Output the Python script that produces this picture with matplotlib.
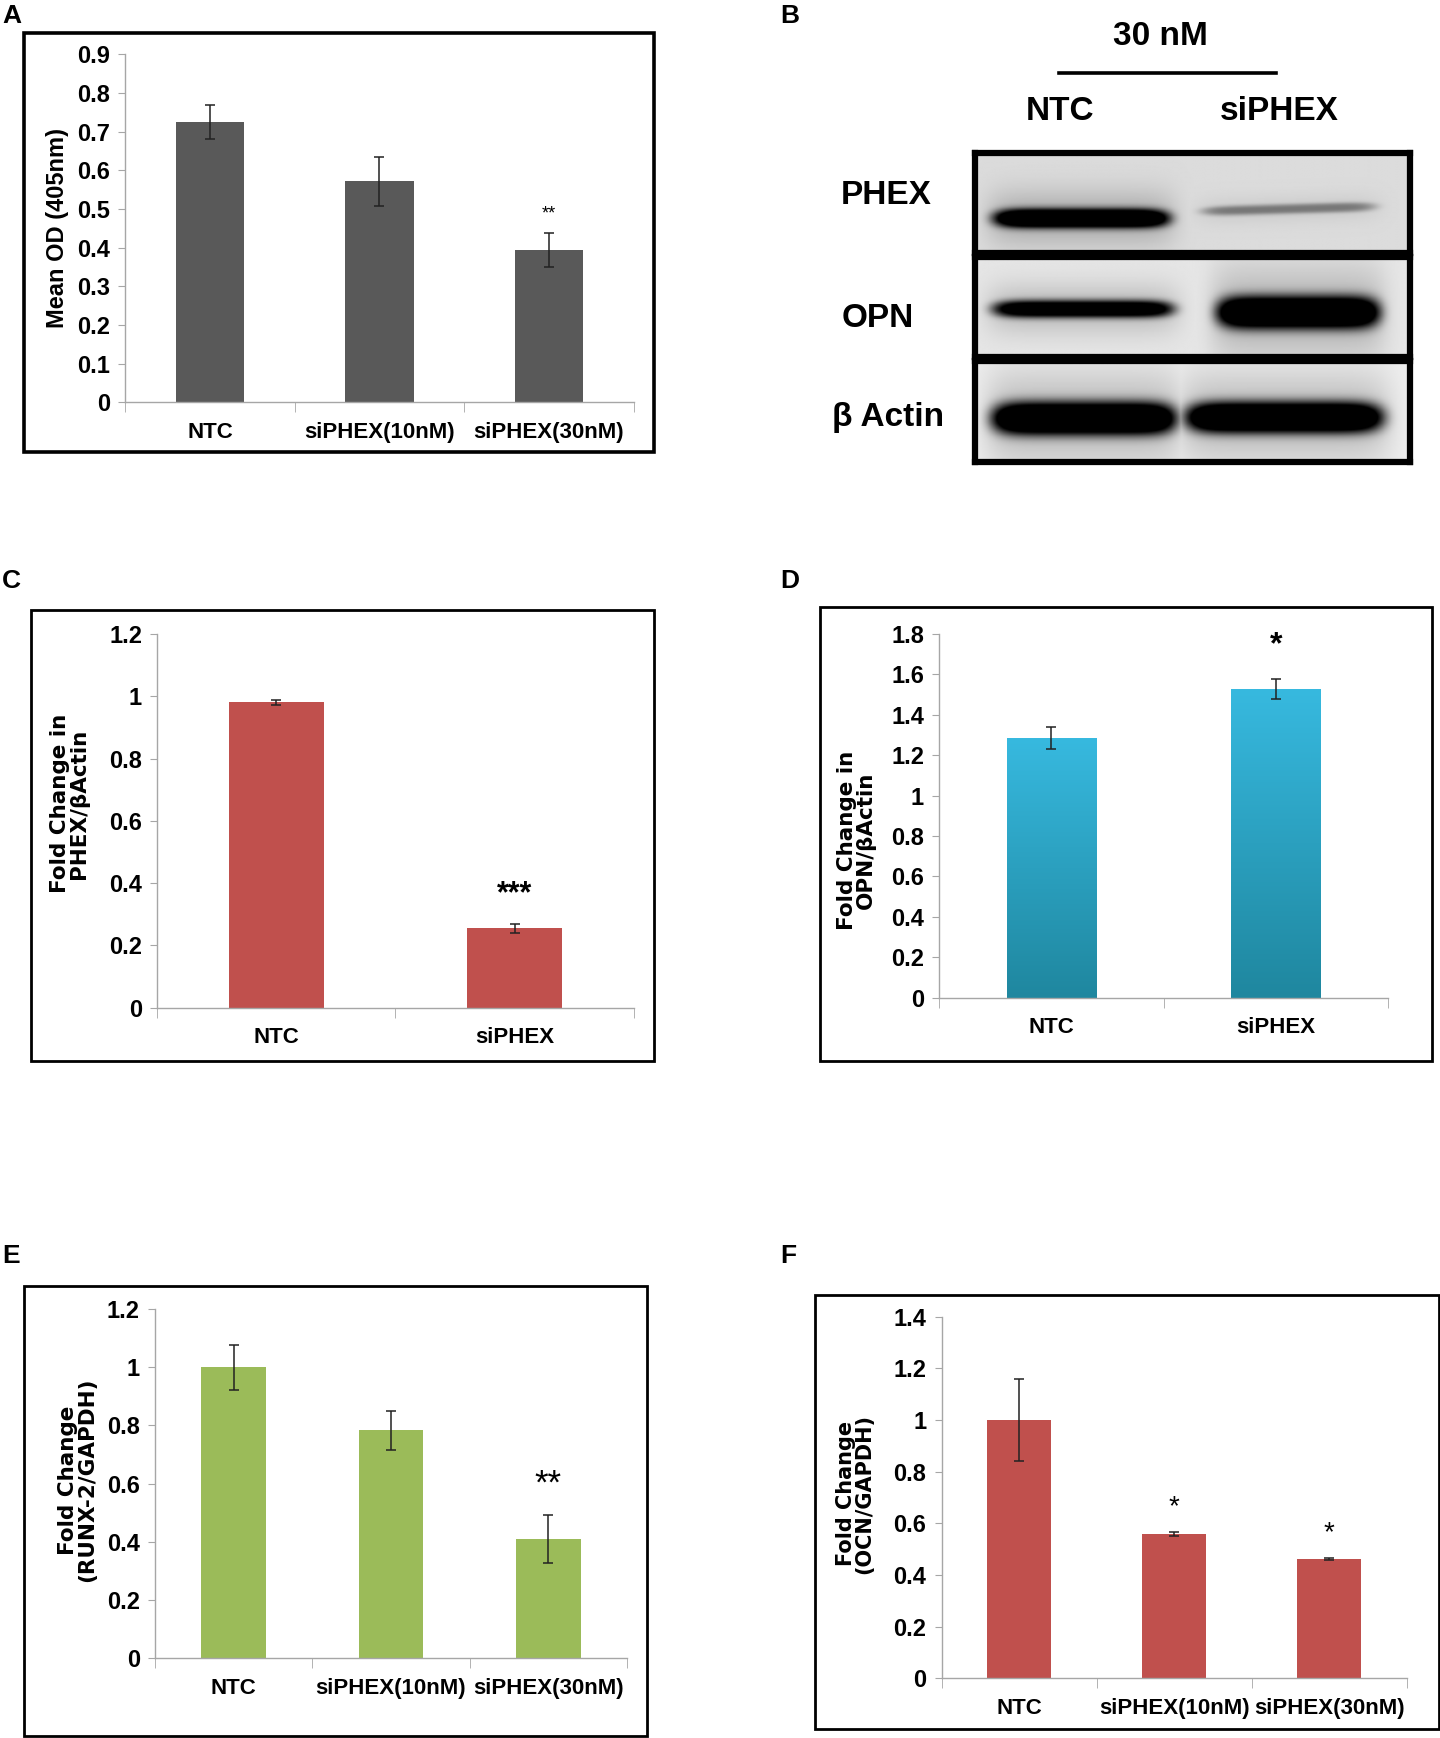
import numpy as np
import matplotlib.pyplot as plt
from matplotlib.patches import Rectangle
from matplotlib.colors import LinearSegmentedColormap

# layout grid (positions below are measured on a 1300 x 1568 grid)
W0, H0 = 1300, 1568

NARROW = ['Liberation Sans Narrow', 'Liberation Sans', 'DejaVu Sans']
ARIAL = ['Liberation Sans', 'DejaVu Sans']
WIDE = ['DejaVu Sans']

# ---- data ----
a_groups = ['NTC', 'siPHEX(10nM)', 'siPHEX(30nM)']
a_means = [0.725, 0.572, 0.393]
a_errs = [0.045, 0.063, 0.044]
a_sig = ['', '', '**']

c_groups = ['NTC', 'siPHEX']
c_means = [0.98, 0.255]
c_errs = [0.007, 0.014]
c_sig = ['', '***']

d_groups = ['NTC', 'siPHEX']
d_means = [1.285, 1.527]
d_errs = [0.055, 0.048]
d_sig = ['', '*']

e_groups = ['NTC', 'siPHEX(10nM)', 'siPHEX(30nM)']
e_means = [1.0, 0.783, 0.41]
e_errs = [0.078, 0.067, 0.083]
e_sig = ['', '', '**']

f_groups = ['NTC', 'siPHEX(10nM)', 'siPHEX(30nM)']
f_means = [1.0, 0.557, 0.462]
f_errs = [0.158, 0.008, 0.004]
f_sig = ['', '*', '*']

blot_lanes = ['NTC', 'siPHEX']
blot_rows = ['PHEX', 'OPN', 'β Actin']
# relative band darkness per row, per lane
blot_intensity = [[1.0, 0.30], [0.85, 1.0], [1.0, 1.0]]


def frac_rect(x0, y0, x1, y1):
    return [x0 / W0, 1 - y1 / H0, (x1 - x0) / W0, (y1 - y0) / H0]


def fig_text(fig, x, y, s, **kw):
    fig.text(x / W0, 1 - y / H0, s, **kw)


def frame(fig, x0, y0, x1, y1, lw=2.0):
    r = frac_rect(x0, y0, x1, y1)
    fig.add_artist(Rectangle((r[0], r[1]), r[2], r[3], transform=fig.transFigure,
                             fill=False, ec='black', lw=lw))


def bar_panel(fig, rect, groups, means, errs, sig, ymax, step, color, ylabel,
              ylab_xy, ylab_font, ylab_size, width, star_size, star_gap,
              star_weight='normal', gradient=None):
    ax = fig.add_axes(frac_rect(*rect))
    x = np.arange(len(groups))
    bars = ax.bar(x, means, width=width, color=color, zorder=2)
    if gradient is not None:
        cmap = LinearSegmentedColormap.from_list('g', gradient)
        grad = np.linspace(1, 0, 200).reshape(-1, 1)
        for b in bars:
            ax.imshow(grad, extent=[b.get_x(), b.get_x() + b.get_width(), 0, b.get_height()],
                      aspect='auto', cmap=cmap, zorder=2.5)
    ax.errorbar(x, means, yerr=errs, fmt='none', ecolor='#222222', elinewidth=1.1,
                capsize=3.5, capthick=1.1, zorder=3)
    for xi, m, e, s in zip(x, means, errs, sig):
        if s:
            ax.text(xi, m + e + star_gap, s, ha='center', va='center', fontsize=star_size,
                    fontweight=star_weight, family=ARIAL)
    ax.set_xlim(-0.5, len(groups) - 0.5)
    ax.set_ylim(0, ymax)
    ticks = np.round(np.arange(0, ymax + step / 2, step), 2)
    ax.set_yticks(ticks)
    ax.set_yticklabels([f'{t:g}' for t in ticks], family=NARROW, fontweight='bold', fontsize=17)
    ax.set_xticks(x)
    ax.set_xticklabels(groups, family=NARROW, fontweight='bold', fontsize=16)
    ax.set_xticks(np.arange(len(groups) + 1) - 0.5, minor=True)
    ax.tick_params(axis='x', which='major', length=0, pad=14)
    ax.tick_params(axis='x', which='minor', length=7, color='#a6a6a6', direction='out')
    ax.tick_params(axis='y', length=5, color='#a6a6a6', pad=6)
    for sp in ['top', 'right']:
        ax.spines[sp].set_visible(False)
    for sp in ['left', 'bottom']:
        ax.spines[sp].set_color('#a6a6a6')
        ax.spines[sp].set_linewidth(1.0)
    ax.set_ylabel(ylabel, family=ylab_font, fontweight='bold', fontsize=ylab_size,
                  va='center', linespacing=0.9)
    ax.yaxis.set_label_coords(*ylab_xy)
    return ax


def blot_image(intens, bands, bg, ny=120, nx=500):
    yy, xx = np.mgrid[0:1:ny * 1j, 0:1:nx * 1j]
    dark = np.zeros_like(xx)
    for k, (xc, hx, yc, hy, tilt) in enumerate(bands):
        yline = yc + tilt * (xx - xc)
        d = ((xx - xc) / hx) ** 8 + ((yy - yline) / hy) ** 2
        core = intens[k] * np.exp(-d ** 1.5)
        dh = ((xx - xc) / (hx * 1.05)) ** 8 + ((yy - yline) / (hy * 2.8)) ** 2
        halo = 0.22 * intens[k] * np.exp(-dh)
        dark = np.maximum(dark, np.clip(core * 1.3, 0, 1) + halo)
    return bg * (1 - np.clip(dark, 0, 1))


fig = plt.figure(figsize=(14.4, 17.38), dpi=100)

# ---- A ----
frame(fig, 22, 30, 590, 408, lw=2.6)
bar_panel(fig, (113, 49, 572, 363), a_groups, a_means, a_errs, a_sig, 0.9, 0.1, '#595959',
          'Mean OD (405nm)', (-0.133, 0.5), ARIAL, 17, 0.405, 13, 0.05)

# ---- C ----
frame(fig, 28, 550, 590, 957)
bar_panel(fig, (142, 572, 572, 909), c_groups, c_means, c_errs, c_sig, 1.2, 0.2, '#c0504d',
          'Fold Change in\nPHEX/βActin', (-0.184, 0.546), WIDE, 15.5, 0.4, 22, 0.094, 'bold')

# ---- D ----
frame(fig, 740, 548, 1293, 957)
bar_panel(fig, (848, 572, 1253, 900), d_groups, d_means, d_errs, d_sig, 1.8, 0.2, '#2ea3c6',
          'Fold Change in\nOPN/βActin', (-0.185, 0.433), WIDE, 15.5, 0.4, 23, 0.17, 'bold',
          gradient=['#1f879f', '#37b9df'])

# ---- E ----
frame(fig, 22, 1160, 584, 1566)
bar_panel(fig, (140, 1181, 566, 1496), e_groups, e_means, e_errs, e_sig, 1.2, 0.2, '#9bbb59',
          'Fold Change\n(RUNX-2/GAPDH)', (-0.164, 0.51), WIDE, 15.5, 0.41, 25, 0.107)

# ---- F ----
frame(fig, 736, 1168, 1299, 1560)
bar_panel(fig, (850, 1188, 1270, 1514), f_groups, f_means, f_errs, f_sig, 1.4, 0.2, '#c0504d',
          'Fold Change\n(OCN/GAPDH)', (-0.186, 0.51), WIDE, 15, 0.41, 20, 0.096)

# ---- B: western blot ----
strips = [(880, 138, 1273, 228), (880, 232, 1273, 322), (880, 326, 1273, 417)]
strip_bg = [0.86, 0.90, 0.93]
band_layout = [
    [(0.244, 0.205, 0.655, 0.10, 0.0), (0.72, 0.20, 0.56, 0.05, -0.12)],
    [(0.248, 0.21, 0.52, 0.09, 0.0), (0.742, 0.19, 0.555, 0.17, 0.0)],
    [(0.25, 0.215, 0.57, 0.17, 0.0), (0.71, 0.23, 0.56, 0.16, 0.0)],
]
label_pos = [(800, 176), (792, 287), (802, 377)]
for row, (r, bg, bands, lp) in enumerate(zip(strips, strip_bg, band_layout, label_pos)):
    bax = fig.add_axes(frac_rect(*r))
    img = blot_image(blot_intensity[row], bands, bg)
    bax.imshow(img, cmap='gray', vmin=0, vmax=1, extent=[0, 1, 0, 1], aspect='auto',
               interpolation='bilinear')
    bax.set_xticks([])
    bax.set_yticks([])
    for sp in bax.spines.values():
        sp.set_linewidth(4.5)
        sp.set_color('black')
    fig_text(fig, lp[0], lp[1], blot_rows[row], ha='center', va='center',
             fontsize=24, fontweight='bold', family=NARROW)

fig_text(fig, 1048, 33, '30 nM', ha='center', va='center', fontsize=24,
         fontweight='bold', family=NARROW)
fig.add_artist(plt.Line2D([956 / W0, 1152 / W0], [1 - 66 / H0, 1 - 66 / H0],
                          transform=fig.transFigure, color='black', lw=2.6))
for lane, xc in zip(blot_lanes, [957, 1155]):
    fig_text(fig, xc, 101, lane, ha='center', va='center', fontsize=24,
             fontweight='bold', family=NARROW)

# panel letters
for letter, (lx, ly) in zip('ABCDEF', [(2, 14), (704, 14), (2, 524), (704, 524),
                                        (2, 1133), (704, 1133)]):
    fig_text(fig, lx, ly, letter, ha='left', va='center', fontsize=19,
             fontweight='bold', family=ARIAL)

fig.savefig('out.png', dpi=100, facecolor='white')
